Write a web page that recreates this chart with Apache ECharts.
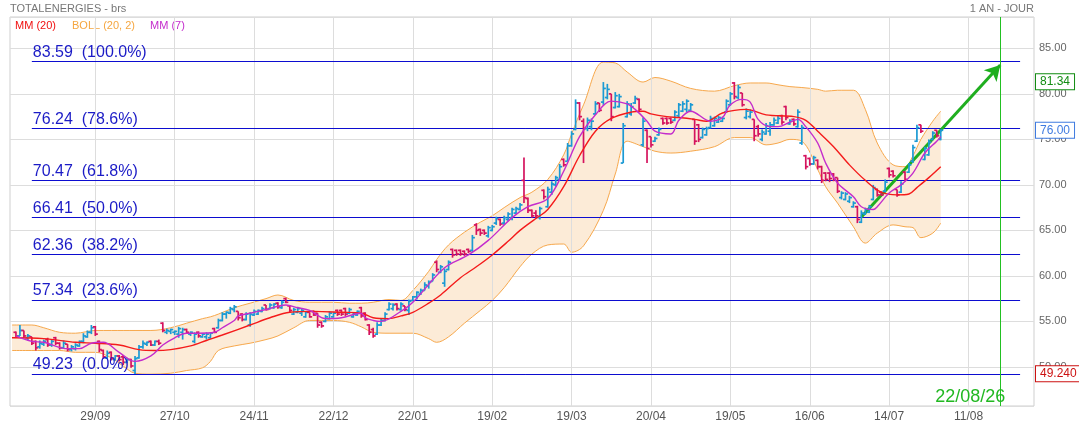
<!DOCTYPE html>
<html>
<head>
<meta charset="utf-8" />
<title>TOTALENERGIES - brs</title>
<script src="https://cdn.jsdelivr.net/npm/echarts@6.0.0/dist/echarts.min.js"></script>
<style>
  html, body { margin: 0; padding: 0; background: #fff; }
  #chart { width: 1079px; height: 427px; }
</style>
</head>
<body>
<div id="chart"></div>
<script>
// one bar per session from 01/09/2025: [open, high, low, close]
const bars = [
  [53.8,53.9,53.2,53.4],[53.4,54.6,53.4,54.0],[54.0,54.0,53.2,53.4],[53.2,53.6,52.9,53.4],[53.3,53.3,52.4,52.6],
  [52.8,52.9,51.8,52.1],[52.2,52.9,52.0,52.6],[52.5,53.0,52.3,52.8],[53.0,53.2,52.2,52.4],[52.4,53.0,52.2,52.8],
  [53.2,53.3,52.4,52.6],[52.6,52.7,51.9,52.1],[52.1,52.9,52.0,52.6],[52.5,52.5,51.7,51.9],[51.9,52.4,51.7,52.2],
  [52.0,52.6,51.8,52.4],[52.3,52.9,52.2,52.8],[52.8,53.7,52.6,53.4],[53.3,54.0,53.2,53.8],[53.8,54.6,53.6,54.3],
  [54.4,54.5,53.4,53.6],[52.8,52.9,51.6,51.9],[51.8,51.9,50.9,51.1],[51.0,51.8,50.9,51.5],[51.6,51.7,50.7,50.9],
  [50.8,51.3,50.7,51.2],[51.2,51.3,50.6,50.8],[51.1,51.3,50.2,50.5],[50.5,51.0,50.4,50.8],[50.8,50.9,49.9,50.1],
  [49.6,51.2,49.23,50.9],[51.0,52.4,50.9,52.2],[52.2,52.9,52.0,52.6],[52.5,52.8,52.3,52.7],[52.8,52.9,52.3,52.4],
  [52.4,52.9,52.3,52.8],[52.8,53.0,52.4,52.6],[54.8,54.9,53.8,54.0],[53.8,54.2,53.6,54.0],[53.9,54.2,53.6,54.1],
  [53.8,54.0,53.5,53.9],[53.6,54.4,53.2,54.2],[53.8,54.3,53.0,54.1],[54.1,54.2,53.7,53.8],[53.6,53.9,53.4,53.8],
  [52.8,53.8,52.6,53.6],[53.8,53.9,53.2,53.4],[53.3,53.7,53.2,53.6],[53.3,53.8,53.0,53.6],[53.2,53.8,53.1,53.7],
  [54.2,54.3,53.7,53.8],[54.3,55.3,54.2,55.1],[55.1,56.0,55.0,55.8],[55.8,56.1,55.3,56.0],[55.9,56.6,55.8,56.4],
  [56.3,56.8,56.0,56.6],[56.1,56.1,55.1,55.4],[55.8,55.9,55.0,55.2],[55.2,56.0,55.1,55.8],[54.6,56.0,54.4,55.8],
  [55.7,56.3,55.6,56.1],[55.8,56.3,55.7,56.2],[56.1,56.6,56.0,56.4],[56.8,56.8,56.2,56.3],[56.4,57.0,56.3,56.8],
  [56.5,57.0,56.4,56.9],[57.0,57.1,56.4,56.6],[56.5,57.3,56.4,57.1],[57.5,57.6,57.0,57.1],[56.7,56.8,56.0,56.2],
  [55.8,56.5,55.7,56.3],[56.0,56.6,55.9,56.4],[55.9,56.4,55.6,56.2],[55.5,56.1,55.4,56.0],[56.0,56.0,55.4,55.5],
  [56.1,56.2,55.6,55.7],[55.9,55.9,54.3,54.6],[54.9,55.0,54.3,54.5],[55.0,55.7,54.9,55.5],[55.3,56.1,55.2,55.9],
  [55.5,56.0,55.4,55.9],[56.2,56.3,55.6,55.8],[56.2,56.3,55.6,55.8],[56.4,56.5,55.6,55.8],[55.9,56.5,55.8,56.3],
  [55.5,56.0,55.4,55.9],[55.7,56.2,55.6,56.1],[56.5,56.6,55.4,55.6],[55.9,56.0,55.1,55.2],[54.6,54.7,53.5,53.8],
  [54.1,54.3,53.2,53.4],[53.6,54.9,53.5,54.6],[54.6,55.3,54.5,55.1],[55.1,56.0,55.0,55.8],[56.3,57.1,56.2,56.9],
  [56.4,57.0,56.2,56.8],[56.9,57.0,56.2,56.4],[56.3,57.1,56.2,56.9],[56.7,56.7,56.1,56.3],[56.2,57.4,55.7,57.2],
  [57.3,57.8,57.2,57.7],[57.7,58.3,57.4,58.2],[58.0,58.6,57.9,58.4],[58.4,59.3,58.4,59.0],[58.9,59.5,58.6,59.3],
  [59.4,60.3,59.4,60.1],[61.5,61.7,60.4,60.7],[60.4,61.2,60.3,61.0],[59.2,60.8,58.8,60.5],[60.7,61.7,60.6,61.5],
  [62.9,63.0,62.0,62.3],[62.8,62.9,62.2,62.4],[62.8,62.9,62.2,62.4],[62.7,62.8,62.2,62.4],[62.9,63.0,62.5,62.7],
  [62.8,64.5,62.6,64.2],[65.6,65.8,64.5,65.0],[65.1,65.2,64.4,64.7],[65.0,65.1,64.5,64.7],[64.4,65.5,64.2,65.3],
  [65.0,65.6,64.9,65.4],[65.8,66.5,65.6,66.3],[66.2,66.3,65.5,65.7],[65.8,66.6,65.6,66.4],[66.2,67.0,66.0,66.8],
  [66.4,67.5,66.1,67.3],[66.9,67.6,66.8,67.4],[67.3,68.0,67.2,67.8],[70.5,73.0,68.0,68.6],[68.5,68.6,66.9,67.2],
  [67.2,67.3,66.4,66.6],[66.9,67.2,66.3,66.6],[66.4,67.6,66.2,67.4],[69.4,69.5,68.4,68.7],[67.6,69.8,67.5,69.5],
  [69.2,70.4,68.9,70.1],[70.0,71.0,69.8,70.8],[70.6,72.3,70.5,72.0],[72.8,72.9,72.0,72.2],[72.6,74.6,72.6,74.3],
  [74.3,75.9,74.2,75.6],[76.1,79.4,76.0,79.0],[79.0,79.1,77.1,77.5],[77.0,77.3,72.4,76.2],[76.2,77.4,75.9,77.1],
  [76.4,77.3,76.0,77.0],[77.8,79.2,77.7,78.9],[79.0,79.0,78.0,78.2],[79.1,81.3,78.8,80.6],[79.6,81.1,79.4,80.5],
  [80.0,80.0,77.0,77.5],[78.5,80.2,78.4,79.8],[78.6,80.0,78.5,79.7],[72.4,76.8,72.4,76.5],[77.5,79.2,77.4,78.9],
  [77.8,79.0,77.6,78.6],[79.0,79.8,78.9,79.5],[79.4,79.5,78.0,78.3],[74.4,77.4,74.2,77.0],[76.0,76.1,72.4,74.0],
  [75.3,75.3,74.1,74.4],[74.8,75.3,74.7,75.1],[75.5,76.3,75.4,76.1],[77.3,77.4,76.6,76.8],[77.3,77.4,76.6,76.8],
  [77.3,77.4,76.7,76.9],[77.1,78.2,77.0,78.0],[77.6,79.0,77.4,78.8],[78.1,79.2,78.0,78.9],[78.3,79.4,78.0,79.2],
  [78.2,79.0,78.0,78.8],[77.2,77.2,74.4,74.8],[76.6,76.7,74.7,75.0],[75.2,76.3,75.1,76.1],[75.5,76.4,75.4,76.2],
  [76.3,77.6,76.2,77.3],[76.5,77.5,76.4,77.3],[76.9,77.6,76.8,77.4],[77.0,77.5,76.9,77.3],[78.0,79.4,77.9,79.2],
  [78.8,80.2,78.7,80.0],[81.2,81.3,79.4,79.7],[79.6,81.0,79.4,80.7],[80.1,80.1,78.6,78.8],[77.4,78.4,77.2,78.1],
  [77.5,78.3,77.3,78.0],[77.2,77.2,74.8,75.4],[76.4,76.6,75.3,75.6],[75.0,76.1,74.8,75.8],[75.6,76.8,75.5,76.5],
  [75.9,76.9,75.4,76.6],[76.6,77.4,76.5,77.1],[76.8,77.6,76.7,77.3],[77.6,77.7,76.6,76.9],[78.6,78.7,77.1,77.4],
  [76.7,77.2,76.6,77.0],[77.2,77.3,76.5,76.7],[76.4,78.3,76.3,78.0],[74.6,76.6,74.4,76.3],[73.2,73.3,71.7,72.0],
  [72.9,73.0,72.1,72.3],[72.3,73.2,72.2,73.0],[72.7,72.8,71.7,72.0],[72.0,72.1,70.2,70.5],[71.3,71.4,70.4,70.6],
  [71.3,71.4,70.3,70.7],[71.2,71.3,70.4,70.6],[70.8,70.8,69.1,69.3],[68.6,69.3,68.4,69.1],[68.4,69.2,68.3,69.0],
  [68.2,68.8,68.0,68.6],[67.6,68.2,67.5,68.0],[67.6,67.7,65.8,66.2],[65.9,67.2,65.8,66.9],[66.8,67.5,66.7,67.3],
  [67.0,67.8,66.9,67.6],[68.4,70.0,68.3,69.7],[69.5,69.6,68.7,68.9],[69.2,69.3,68.8,68.9],[69.3,70.6,69.2,70.3],
  [71.8,71.9,70.8,71.1],[71.5,71.6,70.8,71.0],[69.5,69.5,68.7,68.9],[69.2,70.4,69.1,70.1],[71.4,71.5,70.4,70.6],
  [71.4,72.4,71.3,72.2],[72.6,74.4,72.4,74.1],[74.8,76.6,74.7,76.3],[76.6,76.6,75.7,75.9],[72.8,74.2,72.7,74.0],
  [73.3,75.0,73.2,74.7],[75.0,75.9,74.9,75.7],[76.0,76.0,75.2,75.4],[75.0,76.1,74.9,76.0]
];

// session index -> label, one tick every 20 sessions
const tickLabels = ['29/09','27/10','24/11','22/12','22/01','19/02','19/03','20/04','19/05','16/06','14/07','11/08'];
const firstTick = 20;
const tickStep = 20;
const totalSessions = 257;

// moving averages, [session, value]
const mm20 = [[-1,53.2],[7,53.1],[15,52.7],[20,52.6],[26,52.4],[31,51.9],[35,51.8],[39,51.9],[44,52.3],[48,52.9],
  [52,53.5],[59,54.6],[64,55.4],[69,56.0],[75,56.1],[82,56.0],[87,55.9],[90,55.4],[94,55.3],[97,55.6],[100,56.0],
  [104,57.0],[107,57.9],[112,59.8],[116,61.0],[120,62.3],[124,63.8],[127,65.0],[131,66.3],[134,67.3],[138,69.8],
  [142,73.2],[146,75.9],[150,77.3],[155,78.0],[158,78.1],[160,77.8],[164,77.5],[167,77.4],[171,77.2],[174,77.0],
  [178,77.9],[184,78.3],[189,77.7],[196,77.5],[199,77.1],[202,75.9],[206,74.2],[210,72.2],[214,70.5],[218,69.2],
  [222,68.9],[225,69.0],[227,69.7],[230,70.8],[233,72.0]];
const mm7 = [[0,53.4],[4,52.8],[7,52.7],[13,52.0],[16,52.0],[19,52.6],[22,52.7],[26,51.6],[30,50.6],[34,51.2],
  [37,52.4],[40,53.2],[43,53.7],[46,53.7],[50,53.8],[52,54.3],[55,55.1],[56,55.6],[59,55.9],[63,56.3],[68,56.8],
  [71,56.5],[74,56.2],[77,55.4],[78,55.3],[82,55.4],[87,55.9],[88,55.4],[90,55.1],[92,55.0],[97,56.1],[100,57.1],
  [108,60.9],[114,62.3],[119,63.9],[125,66.4],[129,67.6],[134,68.5],[138,71.5],[142,75.3],[146,77.7],[150,79.2],
  [154,78.9],[156,78.3],[159,77.0],[161,75.9],[165,75.6],[167,77.1],[170,78.1],[175,77.0],[178,77.4],[180,78.8],
  [183,79.4],[185,79.1],[187,77.2],[190,76.4],[192,76.4],[195,76.9],[197,77.2],[199,76.4],[202,74.6],[204,72.4],
  [207,70.2],[211,68.7],[213,67.6],[216,67.3],[217,67.6],[220,69.1],[223,70.0],[226,71.3],[229,73.5],[232,74.8],
  [233,75.3]];

// Bollinger (20, 2) bands sampled at the same sessions
const bollSessions = [-1,4,7,11,15,20,24,27,30,34,39,43,47,49,51,55,59,63,66,70,74,80,84,87,90,94,97,100,104,106,
  109,113,117,120,123,127,130,134,138,140,143,148,151,154,158,161,165,170,176,181,185,189,192,195,198,202,204,207,
  211,214,217,221,224,226,228,231,233];
const bollUpper = [54.6,54.6,54.3,53.8,53.7,54.0,54.0,54.0,54.0,54.0,54.3,54.8,55.3,55.5,55.8,56.5,57.0,57.5,57.9,
  57.3,57.1,57.1,57.0,57.0,57.1,57.4,57.3,58.4,60.5,61.8,63.4,64.8,65.9,66.6,67.5,68.6,69.2,70.6,73.3,75.6,78.8,
  83.5,83.4,82.4,81.3,81.8,81.4,80.6,80.3,80.9,81.2,81.2,81.0,80.8,80.7,80.5,80.3,80.4,80.4,78.3,74.6,72.2,72.0,
  73.2,75.0,77.0,78.1];
const bollLower = [51.8,51.8,51.8,51.8,51.6,51.6,51.0,50.1,49.3,49.2,49.3,49.6,49.9,50.6,51.8,52.3,52.6,53.0,53.4,
  54.3,55.1,55.1,54.9,54.4,53.8,53.7,53.7,53.7,53.1,52.7,53.3,54.8,56.2,57.3,58.7,61.0,62.4,63.4,63.5,62.6,63.3,
  67.2,71.2,74.8,74.2,73.7,73.5,73.7,74.2,75.2,75.2,74.4,74.6,75.0,74.8,71.7,69.8,68.0,65.4,63.6,64.7,65.6,65.4,
  65.3,64.2,64.7,65.8];

// Fibonacci retracement between the low and the high
const fibLevels = [83.59, 76.24, 70.47, 66.41, 62.36, 57.34, 49.23];
const fibPercents = ['100.0%', '78.6%', '61.8%', '50.0%', '38.2%', '23.6%', '0.0%'];
const fibFrom = 4, fibTo = 253;

const lastClose = 76.00;
const targetPrice = 81.34;
const lowPrice = 49.24;
const trendLine = [[213, 66.46], [248, 83.17]];
const targetSession = 248;
const targetLabel = '22/08/26';

const UP = '#1b9ad4', DOWN = '#d5135e';
const FONT = 'Liberation Sans, Arial, sans-serif';

// one empty slot before the first session
const X = i => i + 1;
const categories = Array.from({ length: totalSessions + 1 }, (_, k) => 's' + (k - 1));
const tickAt = {};
tickLabels.forEach((t, j) => { tickAt[X(firstTick + j * tickStep)] = t; });

function priceBox(value, text, color) {
  return {
    yAxis: value,
    lineStyle: { color: 'rgba(0,0,0,0)', width: 0 },
    label: {
      show: true, position: 'end', distance: 2, formatter: text,
      color: color, borderColor: color, borderWidth: 1, backgroundColor: '#fff',
      padding: [2, 4, 1, 4], fontSize: 12, fontFamily: FONT
    }
  };
}

const chart = echarts.init(document.getElementById('chart'));

const option = {
  animation: false,
  backgroundColor: '#fff',
  textStyle: { fontFamily: FONT },
  grid: {
    left: 10, right: 45, top: 17, bottom: 21,
    show: true, borderColor: '#cfcfcf', borderWidth: 1,
    containLabel: false, outerBoundsMode: 'none'
  },
  graphic: [
    { type: 'text', left: 10, top: 3, style: { text: 'TOTALENERGIES - brs', fill: '#777', font: '11px ' + FONT } },
    { type: 'text', right: 45, top: 3, style: { text: '1 AN - JOUR', fill: '#777', font: '11px ' + FONT } },
    { type: 'text', left: 15, top: 20, style: { text: 'MM (20)', fill: '#f01010', font: '11px ' + FONT } },
    { type: 'text', left: 72, top: 20, style: { text: 'BOLL (20, 2)', fill: '#f5a640', font: '11px ' + FONT } },
    { type: 'text', left: 150, top: 20, style: { text: 'MM (7)', fill: '#c42ccc', font: '11px ' + FONT } }
  ],
  xAxis: {
    type: 'category',
    data: categories,
    boundaryGap: true,
    axisLine: { show: false },
    axisTick: { show: false },
    splitLine: { show: false },
    axisLabel: {
      color: '#555', fontSize: 12, margin: 5,
      interval: (idx) => tickAt[idx] !== undefined,
      formatter: (v, idx) => tickAt[idx] || ''
    }
  },
  yAxis: {
    type: 'value',
    position: 'right',
    min: 45.7, max: 88.45,
    splitNumber: 8,
    axisLine: { show: false },
    axisTick: { show: false },
    splitLine: { lineStyle: { color: '#dddddd' } },
    axisLabel: {
      color: '#666', fontSize: 11, margin: 5,
      showMinLabel: false, showMaxLabel: false,
      formatter: v => v.toFixed(2)
    }
  },
  series: [
    {
      // vertical grid lines on the tick sessions
      type: 'line', data: [], z: 1, silent: true,
      markLine: {
        silent: true, symbol: ['none', 'none'], label: { show: false },
        lineStyle: { color: '#dddddd', width: 1, type: 'solid' },
        data: Object.keys(tickAt).map(k => ({ xAxis: Number(k) }))
      }
    },
    {
      name: 'BOLL lower', type: 'line', stack: 'boll', z: 2,
      smooth: 0.35, symbol: 'none',
      lineStyle: { color: '#f7a84c', width: 1 },
      data: bollSessions.map((s, j) => [X(s), bollLower[j]])
    },
    {
      name: 'BOLL upper', type: 'line', stack: 'boll', z: 2,
      smooth: 0.35, symbol: 'none',
      lineStyle: { color: '#f7a84c', width: 1 },
      areaStyle: { color: '#fcebd7', opacity: 1 },
      data: bollSessions.map((s, j) => [X(s), bollUpper[j] - bollLower[j]])
    },
    {
      // Fibonacci levels
      type: 'line', data: [], z: 3, silent: true,
      markLine: {
        silent: true, symbol: ['none', 'none'],
        lineStyle: { color: '#0c0cd0', width: 1, type: 'solid' },
        label: {
          show: true, position: 'insideStartTop', distance: [1, 1],
          color: '#1b1bc6', fontSize: 16, fontFamily: FONT
        },
        data: fibLevels.map((v, j) => [
          { coord: [X(fibFrom), v], label: { formatter: v.toFixed(2) + '  (' + fibPercents[j] + ')' } },
          { coord: [X(fibTo), v] }
        ])
      }
    },
    {
      name: 'bars', type: 'custom', z: 5,
      data: bars.map((b, i) => [X(i), b[0], b[1], b[2], b[3]]),
      encode: { x: 0, y: [1, 2, 3, 4] },
      renderItem: (params, api) => {
        const k = api.value(0);
        const o = api.coord([k, api.value(1)]);
        const h = api.coord([k, api.value(2)]);
        const l = api.coord([k, api.value(3)]);
        const c = api.coord([k, api.value(4)]);
        const style = { stroke: api.value(4) >= api.value(1) ? UP : DOWN, lineWidth: 1.7 };
        const x = h[0];
        return {
          type: 'group',
          children: [
            { type: 'line', shape: { x1: x, y1: h[1], x2: x, y2: l[1] }, style },
            { type: 'line', shape: { x1: x - 2.5, y1: o[1], x2: x, y2: o[1] }, style },
            { type: 'line', shape: { x1: x, y1: c[1], x2: x + 2.5, y2: c[1] }, style }
          ]
        };
      }
    },
    {
      name: 'MM (20)', type: 'line', z: 6, smooth: 0.35, symbol: 'none',
      lineStyle: { color: '#f41b1b', width: 1.4 },
      data: mm20.map(p => [X(p[0]), p[1]])
    },
    {
      name: 'MM (7)', type: 'line', z: 6, smooth: 0.35, symbol: 'none',
      lineStyle: { color: '#c42ccc', width: 1.4 },
      data: mm7.map(p => [X(p[0]), p[1]])
    },
    {
      // trend arrow towards the target
      type: 'line', data: [], z: 8, silent: true,
      markLine: {
        silent: true, symbol: ['none', 'arrow'], symbolSize: [13, 15],
        lineStyle: { color: '#1fae1f', width: 3, type: 'solid' },
        label: { show: false },
        data: [[
          { coord: [X(trendLine[0][0]), trendLine[0][1]] },
          { coord: [X(trendLine[1][0]), trendLine[1][1]] }
        ]]
      }
    },
    {
      // target date line and price boxes
      type: 'line', data: [], z: 8, silent: true,
      markLine: {
        silent: true, symbol: ['none', 'none'],
        label: { show: false },
        data: [
          { xAxis: X(targetSession), lineStyle: { color: '#22c022', width: 1, type: 'solid' } },
          priceBox(targetPrice, targetPrice.toFixed(2), '#128c12'),
          priceBox(lastClose, lastClose.toFixed(2), '#3f7be0'),
          priceBox(lowPrice, lowPrice.toFixed(3), '#cc1111')
        ]
      },
      markPoint: {
        silent: true, symbol: 'circle', symbolSize: 0,
        itemStyle: { color: 'rgba(0,0,0,0)' },
        data: [{
          coord: [X(targetSession), 45.7],
          label: { show: true, formatter: targetLabel, position: 'left', distance: 0, offset: [5, -9],
            color: '#22b822', fontSize: 18, fontFamily: FONT }
        }]
      }
    }
  ]
};

chart.setOption(option);
</script>
</body>
</html>
